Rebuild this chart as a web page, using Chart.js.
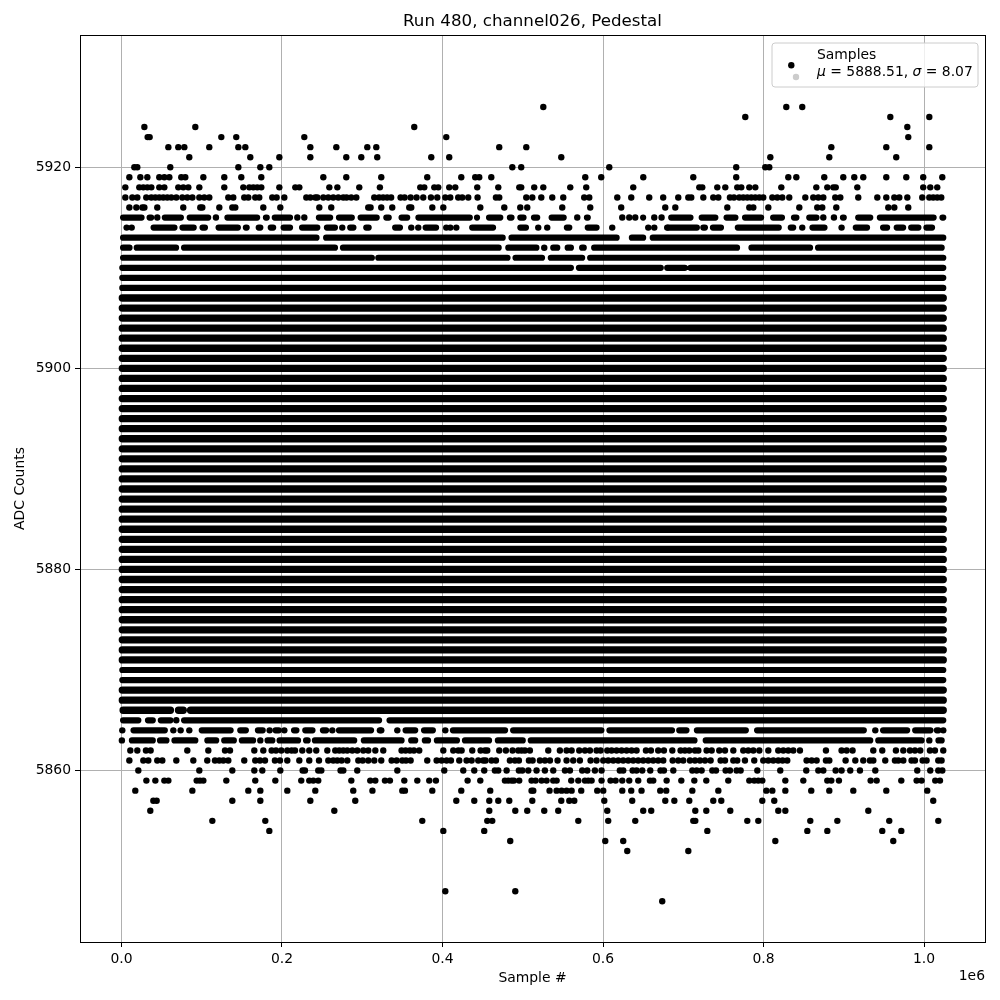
<!DOCTYPE html>
<html>
<head>
<meta charset="utf-8">
<title>Run 480, channel026, Pedestal</title>
<script src="https://cdn.jsdelivr.net/npm/chart.js@4/dist/chart.umd.min.js"></script>
<style>
html, body { margin: 0; padding: 0; background: #fff; }
canvas { display: block; }
</style>
</head>
<body>
<canvas id="chart" width="1000" height="1000"></canvas>
<script>
// sample numbers are in thousands per ADC level.
// the solid band has about a million samples, so those levels are kept as runs [from, to]
var chartTitle = 'Run 480, channel026, Pedestal';
var xLabel = 'Sample #';
var yLabel = 'ADC Counts';
var xOffsetText = '1e6';
var legendName = 'Samples';
var legendMean = '5888.51';
var legendSigma = '8.07';
var xTickValues = [0, 200000, 400000, 600000, 800000, 1000000];
var yTickValues = [5860, 5880, 5900, 5920];

var row5926 = [525.6, 828.4, 848.3];
var row5925 = [777.3, 958, 1006.6];
var row5924 = [28.5, 92, 364.8, 979.2];
var row5923 = [32.6, 35.1, 124.4, 143, 227.8, 404.7, 980.4];
var row5922 = [58.4, 70.8, 78.3, 109.4, 145.6, 154.3, 235.3, 267.7, 306.3, 317.5, 470.7, 504.4, 884.5, 953, 1006.6];
var row5921 = [84.5, 160.5, 196.7, 235.3, 280.1, 298.8, 318.7, 386, 408.4, 548, 808.5, 882, 965.4];
var row5920 = [16, 19.7, 60.8, 145.6, 173, 184.2, 487, 498.1, 607.8, 766, 802.2, 807.2];
var row5919 = [9.8, 23.5, 32.2, 47.1, 53.4, 59.6, 74.5, 79.5, 102, 128.1, 149.3, 174.2, 251.5, 280.1, 323.7, 381, 423.4, 440.8, 445.8, 460.8, 577.9, 597.8, 650.2, 712.5, 766, 830.9, 840.9, 875.7, 899.4, 913.1, 924.3, 953, 977.9, 999, 1022.8];
var row5918 = [4.8, 22.2, 27.2, 32.2, 37.2, 47.1, 53.4, 70.8, 77, 83.3, 97, 128.1, 151.8, 159.3, 164.3, 169.2, 174.2, 196.7, 216.6, 221.6, 259, 269, 296.3, 322, 372.3, 377.3, 389.8, 394.7, 408.4, 415.9, 443.3, 469.5, 495.7, 498.1, 514.3, 525.6, 559.2, 579.1, 637.7, 720, 723.7, 742.4, 752.4, 767.3, 772.3, 782.3, 789.8, 822.2, 865.8, 879.5, 887, 890, 916.9, 999, 1007.8, 1016.5];
var row5917 = [4.8, 13.5, 19.7, 30.9, 37.2, 42.2, 47.1, 52.1, 57.1, 62.1, 68.3, 75.8, 82, 88.3, 97, 103.2, 109.4, 133.1, 139.3, 153, 158, 166.7, 171.7, 187.9, 193.3, 202.9, 230.3, 235.3, 241.5, 244, 251.5, 257.7, 263.9, 270.2, 276.4, 280.5, 286.3, 292.6, 315, 321, 326, 331, 336, 347.8, 352.8, 360.3, 367.7, 376, 385.6, 393.5, 403.5, 409.7, 419.6, 424.6, 432.1, 443.7, 466.6, 470.7, 504.4, 511.9, 523.1, 536.8, 550.5, 576.6, 582.9, 617.8, 635.2, 657.6, 675, 693.8, 706.3, 710, 725, 737.4, 743.7, 758.2, 763.2, 769.8, 774.8, 779.8, 784.8, 789.8, 794.8, 799.7, 811, 817.2, 823.4, 832.1, 852.1, 862, 868.3, 874.5, 889.4, 895.7, 918.1, 941.8, 953, 963, 969.2, 979.2, 997.8, 1006.6, 1011.5, 1016.5, 1021.5];
var row5916 = [9.8, 18.5, 26, 28.5, 44.6, 77, 98.2, 100.7, 121.9, 138.1, 141.8, 176.7, 197.9, 246.5, 261.4, 307.5, 310.4, 323.7, 337.4, 358.6, 361.1, 387.3, 401, 447.1, 477, 496.9, 505.6, 549.2, 584.1, 622.7, 677.6, 690.1, 754.9, 782.3, 787.3, 806, 844.6, 867, 873.2, 890.7, 955.5, 963, 980.4];
var row5915 = [44.6, 117.7, 219.1, 227.8, 567.9, 624, 632.7, 640.2, 663.9, 673, 874.5, 887.8];
var row5914 = [6.4, 12.7, 275.1, 361.1, 369.8, 404.7, 409.7, 417.2, 519.3, 530.5, 611.5, 656.4, 663.9, 680, 848.3, 897.3];
var row5912 = [526.8];
var row5865 = [68.3];
var row5864 = [1, 64.6, 73.7, 84.5, 184.6, 202.9, 262.7, 322, 323.7, 343.7, 403.5, 939.3, 1024];
var row5863 = [0.5, 173, 1006.6];
var row5862 = [11, 19.7, 30.5, 36.3, 82, 108.2, 129, 135.2, 165.5, 176.7, 187.1, 192.5, 199.1, 206.6, 212, 216.2, 225.3, 234, 242.7, 256.5, 266.4, 271.4, 276.4, 281.4, 287.6, 293.8, 301.3, 307.5, 316.3, 326.2, 349, 354, 359.4, 364.4, 371, 401, 413.4, 419.7, 423.8, 437.1, 447.5, 452.9, 455.8, 470.7, 479, 487.3, 494.4, 498.6, 502.7, 508.9, 531.8, 546.3, 554.6, 560.9, 570.4, 577.5, 583.7, 592, 597, 605.3, 610.7, 616.9, 623.2, 629.4, 635.6, 641.8, 653.5, 659.7, 668.8, 675.9, 686.4, 696.7, 702.1, 707.5, 714.6, 718.8, 729.1, 735.4, 744.9, 752, 762.4, 774.8, 781, 787.3, 794.8, 806, 818.4, 824.7, 830.9, 837.1, 845.4, 877.8, 897.3, 903.6, 911, 936.8, 948, 965, 974.2, 982.5, 988.7, 995.3, 1007.4, 1013.6, 1024];
var row5861 = [9.8, 27.2, 33.4, 44.6, 50.9, 68.3, 89.5, 106.9, 116.5, 121.9, 126.9, 133.1, 153, 166.7, 172.6, 178.8, 191.2, 197.5, 206.6, 221.6, 234, 246.1, 257.7, 263.9, 268.9, 274.3, 281.4, 295.1, 300.5, 307.5, 315, 323.7, 336.6, 342.8, 349.9, 354.5, 360.3, 381, 392.7, 398.9, 405.1, 410.5, 420.9, 430, 436.3, 444.6, 450.8, 453.7, 461.2, 466.6, 484, 490.3, 495.2, 507.7, 512.3, 521.4, 527.6, 533.9, 543.4, 554.6, 562.9, 571.2, 584.5, 592, 600.3, 606.5, 612.8, 619, 625.2, 631.5, 637.7, 643.9, 650.1, 656.4, 662.6, 668.8, 675.1, 686.8, 693.8, 700, 708.4, 714.6, 720.8, 727.1, 734.1, 746.6, 752, 762.4, 767.3, 776.9, 788.5, 799.7, 806, 812.2, 818.4, 823.8, 829.6, 853.7, 860, 866.2, 877.8, 882, 902.3, 914.4, 924.3, 932.6, 936.8, 951.7, 963.8, 968, 974.2, 984.5, 988.7, 998.3, 1003.2, 1017.8, 1021.9];
var row5860 = [21, 97, 138.1, 165.5, 175.5, 197.9, 225.7, 228.6, 245.2, 249, 273, 276.4, 293.8, 343.7, 402.2, 425.9, 439.6, 452, 465.3, 469.5, 479.9, 495.2, 499.4, 506.9, 517.2, 527.6, 538, 552.6, 558.8, 574.1, 580.4, 589.9, 598.2, 621, 625.2, 636.9, 641.8, 648.9, 658.9, 671.7, 675.9, 687.6, 711.3, 716.7, 722.9, 736.2, 740.8, 752.8, 758.2, 766.5, 771.5, 792.3, 820.9, 853.3, 868.3, 874.5, 889.9, 897.3, 908.1, 920.2, 939.3, 991.6, 1007.8, 1017.8, 1022.8];
var row5859 = [31, 42.2, 53.4, 58.4, 93.7, 97.8, 102, 130.6, 166.7, 191.7, 224, 234, 239, 245.2, 286.4, 310, 316.3, 328.3, 334.5, 352.4, 368.6, 383.5, 391.8, 431.3, 447.1, 477.8, 481.9, 486.1, 489, 495.6, 511, 516, 523.5, 529.7, 538, 542.2, 560.4, 569.2, 577.5, 581.6, 585.8, 598.2, 609.4, 615.7, 624, 632.7, 643.9, 658.5, 662.6, 679.3, 697.6, 713.8, 728.7, 756.1, 782.3, 788.5, 793.5, 798.5, 827.2, 849.6, 879.5, 884.5, 894, 933.5, 941, 971.7, 990.8, 997, 1014, 1019.9];
var row5858 = [17.2, 88.3, 158, 173, 206.6, 241.5, 288.8, 312.7, 349.9, 353.2, 387.3, 423.4, 459.5, 511, 513.1, 533.4, 542.2, 548.4, 554.6, 560.9, 572.9, 592.8, 600.3, 624, 635.2, 648, 671.3, 678.8, 711.3, 743.7, 803.5, 811, 827.2, 859.5, 882, 911.9, 953, 1004];
var row5857 = [39.7, 43.8, 138.1, 173, 235.3, 291.3, 417.2, 439.6, 458.3, 469.5, 483.2, 511.9, 548, 558, 564.2, 601.6, 636.4, 677.6, 688.9, 707.5, 737.4, 747.4, 798.5, 813.4, 1011.5];
var row5856 = [35.9, 265.2, 458.3, 490.7, 505.6, 526.8, 544.2, 605.3, 650.1, 660.1, 715, 728.7, 758.6, 818.4, 827.2, 930.6];
var row5855 = [113.2, 179.2, 374.8, 455.8, 462, 569.2, 606.5, 640.2, 712.5, 715, 779.8, 793.5, 858.3, 892, 956.7, 1017.8];
var row5854 = [184.2, 401, 452, 730, 854.6, 879.5, 948, 971.7];
var row5853 = [484.4, 602.8, 625.2, 814.7, 961.7];
var row5852 = [630.2, 706.3];
var row5848 = [403.5, 490.7];
var row5847 = [673.8];

var sparseLevels = [5926, 5925, 5924, 5923, 5922, 5921, 5920, 5919, 5918, 5917, 5916, 5915, 5914, 5912, 5865, 5864, 5863, 5862, 5861, 5860, 5859, 5858, 5857, 5856, 5855, 5854, 5853, 5852, 5848, 5847];
var sparseRows = [row5926, row5925, row5924, row5923, row5922, row5921, row5920, row5919, row5918, row5917, row5916, row5915, row5914, row5912, row5865, row5864, row5863, row5862, row5861, row5860, row5859, row5858, row5857, row5856, row5855, row5854, row5853, row5852, row5848, row5847];

var runs5915 = [[2, 25], [35, 37], [54, 74], [85, 108], [132, 169], [180, 181], [191, 210], [246, 260], [271, 287], [298, 318], [330, 333], [349, 356], [370, 434], [443, 444], [484, 486], [458, 472], [497, 501], [514, 518], [536, 551], [580, 581], [650, 651], [685, 709], [723, 740], [754, 765], [777, 797], [812, 823], [838, 841], [857, 866], [899, 900], [918, 933], [945, 1012], [1023, 1024]];
var runs5914 = [[40, 66], [76, 90], [101, 104], [121, 145], [155, 156], [171, 173], [186, 189], [202, 210], [225, 244], [256, 266], [285, 289], [305, 308], [341, 347], [379, 392], [437, 463], [497, 504], [555, 558], [581, 592], [681, 717], [725, 727], [737, 747], [768, 819], [834, 837], [861, 876], [915, 929], [949, 954], [966, 974], [984, 993], [1003, 1010]];
var runs5913 = [[2, 243], [255, 475], [486, 617], [636, 650], [662, 1024]];
var runs5912 = [[2, 10], [19, 68], [78, 266], [276, 470], [482, 517], [538, 543], [556, 560], [574, 576], [589, 767], [785, 858], [868, 1022]];
var runs5911 = [[2, 312], [320, 481], [491, 524], [535, 574], [584, 1024]];
var runs5910 = [[1, 560], [570, 672], [680, 702], [709, 1024]];
var runs5866 = [[2, 61], [71, 77], [86, 1024]];
var runs5865 = [[2, 21], [33, 39], [49, 61], [78, 321], [334, 1024]];
var runs5864 = [[15, 54], [100, 136], [148, 155], [170, 176], [192, 196], [215, 218], [229, 238], [251, 255], [271, 311], [354, 366], [377, 388], [413, 478], [488, 598], [608, 686], [695, 704], [717, 778], [792, 925], [949, 979], [989, 1008], [1016, 1018]];
var runs5863 = [[13, 39], [48, 56], [66, 92], [107, 118], [128, 140], [150, 164], [182, 188], [197, 220], [230, 232], [241, 290], [302, 349], [361, 366], [378, 382], [393, 418], [428, 458], [469, 500], [510, 714], [728, 933], [943, 997], [1018, 1022]];

var runLevels = [5915, 5914, 5913, 5912, 5911, 5910, 5866, 5865, 5864, 5863];
var runRows = [runs5915, runs5914, runs5913, runs5912, runs5911, runs5910, runs5866, runs5865, runs5864, runs5863];

// levels where the band is unbroken from end to end
var solidFrom = 1;
var solidTo = 1024;
var solidLevels = [];
solidLevels.push(5909, 5908, 5907, 5906, 5905, 5904, 5903, 5902, 5901, 5900, 5899, 5898, 5897, 5896, 5895, 5894, 5893, 5892, 5891, 5890);
solidLevels.push(5889, 5888, 5887, 5886, 5885, 5884, 5883, 5882, 5881, 5880, 5879, 5878, 5877, 5876, 5875, 5874, 5873, 5872, 5871, 5870, 5869, 5868, 5867);
// these show specks along the edges in the reference, so they draw a bit thinner
var thinLevels = [5915, 5914, 5913, 5912, 5911, 5910, 5909, 5908, 5870, 5869, 5865, 5864, 5863];

function buildRuns(thin) {
    var out = [];
    function add(level, from, to) {
        if (thinLevels.includes(level) !== thin) return;
        out.push({x: from * 1000, y: level});
        out.push({x: to * 1000, y: level});
        out.push({x: to * 1000, y: NaN});
    }
    solidLevels.forEach(function(level) { add(level, solidFrom, solidTo); });
    runLevels.forEach(function(level, i) {
        runRows[i].forEach(function(r) { add(level, r[0], r[1]); });
    });
    return out;
}

function buildPoints() {
    var out = [];
    sparseLevels.forEach(function(level, i) {
        sparseRows[i].forEach(function(x) { out.push({x: x * 1000, y: level}); });
    });
    return out;
}

function runDataset(thin, width) {
    return {
        label: legendName,
        data: buildRuns(thin),
        showLine: true,
        spanGaps: false,
        borderColor: '#000',
        borderWidth: width,
        borderCapStyle: 'round',
        pointRadius: 0
    };
}

var frame = {
    id: 'frame',
    afterDraw: function(chart) {
        var ctx = chart.ctx;
        var a = chart.chartArea;
        var top = Math.round(a.top);
        ctx.save();
        ctx.strokeStyle = '#000';
        ctx.lineWidth = 1;
        ctx.strokeRect(a.left + 0.5, top + 0.5, a.right - a.left, a.bottom - top);

        // offset text of the x axis
        ctx.fillStyle = '#000';
        ctx.font = '13.9px "DejaVu Sans"';
        ctx.textAlign = 'right';
        ctx.textBaseline = 'alphabetic';
        ctx.fillText(xOffsetText, a.right, 980);

        // legend box
        var bx = 772, by = 43, bw = 206, bh = 44;
        ctx.beginPath();
        ctx.roundRect(bx, by, bw, bh, 3);
        ctx.fillStyle = 'rgba(255,255,255,0.8)';
        ctx.fill();
        ctx.strokeStyle = '#cccccc';
        ctx.stroke();

        ctx.fillStyle = '#000';
        ctx.beginPath();
        ctx.arc(791.3, 65.3, 3.2, 0, Math.PI * 2);
        ctx.fill();
        ctx.fillStyle = '#cccccc';
        ctx.beginPath();
        ctx.arc(796, 77, 3.2, 0, Math.PI * 2);
        ctx.fill();

        ctx.fillStyle = '#000';
        ctx.textAlign = 'left';
        ctx.fillText(legendName, 817, 59);
        var parts = [['\u03bc', true], [' = ' + legendMean + ', ', false], ['\u03c3', true], [' = ' + legendSigma, false]];
        var tx = 817;
        parts.forEach(function(p) {
            ctx.font = (p[1] ? 'italic ' : '') + '13.9px "DejaVu Sans"';
            ctx.fillText(p[0], tx, 76);
            tx += ctx.measureText(p[0]).width;
        });
        ctx.restore();
    }
};

var tickFont = {family: 'DejaVu Sans', size: 13.9};

new Chart(document.getElementById('chart').getContext('2d'), {
    type: 'scatter',
    data: {
        datasets: [
            runDataset(false, 7.3),
            runDataset(true, 6.2),
            {
                label: legendName,
                data: buildPoints(),
                pointRadius: 3.2,
                pointBorderWidth: 0,
                pointBackgroundColor: '#000'
            }
        ]
    },
    plugins: [frame],
    options: {
        responsive: false,
        animation: false,
        layout: {padding: {right: 15}},
        plugins: {
            legend: {display: false},
            tooltip: {enabled: false},
            title: {
                display: true,
                text: chartTitle,
                color: '#000',
                fullSize: false,
                font: {family: 'DejaVu Sans', size: 16.7, weight: 'normal'},
                padding: {top: 12, bottom: 3}
            }
        },
        scales: {
            x: {
                type: 'linear',
                bounds: 'data',
                min: -51700,
                max: 1076000,
                afterFit: function(s) { s.height = 58; },
                afterBuildTicks: function(s) { s.ticks = xTickValues.map(function(v) { return {value: v}; }); },
                grid: {color: '#b0b0b0', lineWidth: 1, tickColor: '#000', tickLength: 5},
                border: {color: '#000'},
                title: {display: true, text: xLabel, color: '#000', font: tickFont, padding: {top: 0, bottom: 13}},
                ticks: {
                    maxRotation: 0,
                    color: '#000',
                    font: tickFont,
                    padding: 4,
                    callback: function(v) { return (v / 1e6).toFixed(1); }
                }
            },
            y: {
                type: 'linear',
                bounds: 'data',
                min: 5842.95,
                max: 5933.15,
                afterFit: function(s) { s.width = 80; },
                afterBuildTicks: function(s) { s.ticks = yTickValues.map(function(v) { return {value: v}; }); },
                grid: {color: '#b0b0b0', lineWidth: 1, tickColor: '#000', tickLength: 5},
                border: {color: '#000'},
                title: {display: true, text: yLabel, color: '#000', font: tickFont, padding: {top: 12, bottom: 0}},
                ticks: {
                    color: '#000',
                    font: tickFont,
                    padding: 4,
                    callback: function(v) { return String(v); }
                }
            }
        }
    }
});
</script>
</body>
</html>
